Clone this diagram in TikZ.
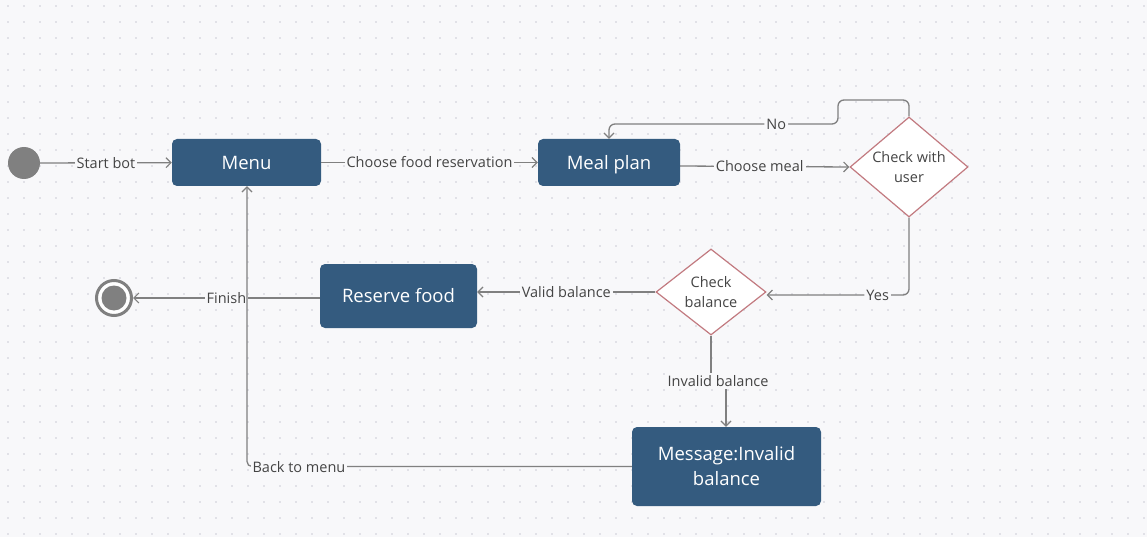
\documentclass[tikz,border=0pt]{standalone}
\usepackage{fontspec}
\setmainfont{Open Sans}
\usetikzlibrary{arrows.meta,shapes.geometric}
\definecolor{bg}{HTML}{F8F8FA}
\definecolor{dotc}{HTML}{CACAD4}
\definecolor{boxc}{HTML}{345B7F}
\definecolor{diac}{HTML}{C27A80}
\definecolor{linec}{HTML}{808080}
\definecolor{txtc}{HTML}{444444}
\tikzset{
  statebox/.style={draw=none, fill=boxc, rounded corners=5pt, text=white, font=\fontsize{18.5}{25}\selectfont, align=center, inner sep=0pt},
  oneline/.style={text height=13.2pt, text depth=0pt},
  decision/.style={diamond, draw=diac, line width=1.2pt, fill=white, inner sep=0pt},
  dtext/.style={text=txtc, font=\fontsize{14.5}{20}\selectfont, align=center},
  conn/.style={draw=linec, line width=1.3pt, -{Straight Barb[length=5pt,width=10pt,line width=1.2pt]}},
  plain/.style={draw=linec, line width=1.3pt},
  lbl/.style={fill=bg, text=txtc, font=\fontsize{14.5}{16}\selectfont, inner sep=2pt},
}
\begin{document}
\begin{tikzpicture}[x=1pt,y=-1pt]
\fill[bg] (0,0) rectangle (1147,537);
\useasboundingbox (0,0) rectangle (1147,537);
\foreach \i in {0,...,71}{\foreach \j in {0,...,33}{\fill[dotc] (8+\i*16,6+\j*16) circle (0.8pt);}}
% nodes
\node[circle, fill=linec, minimum size=32pt, inner sep=0pt] (start) at (24,163) {};
\node[statebox, oneline, minimum width=149pt, minimum height=47pt] (menu) at (246.5,162.5) {Menu};
\node[statebox, oneline, minimum width=142pt, minimum height=47pt] (meal) at (609,162.5) {Meal plan};
\node[decision, minimum width=118pt, minimum height=100pt, aspect=1.18] (chk) at (909,167) {};
\node[dtext] (chkt) at (909,167) {Check with\\user};
\node[decision, minimum width=110pt, minimum height=86pt, aspect=1.28] (bal) at (711,292) {};
\node[dtext] (balt) at (711,292) {Check\\balance};
\node[statebox, oneline, minimum width=157pt, minimum height=64pt] (res) at (398.5,296) {Reserve food};
\node[statebox, minimum width=189pt, minimum height=79pt] (msg) at (726.5,466.5) {Message:Invalid\\balance};
\node[circle, draw=linec, line width=3pt, fill=white, minimum size=35pt, inner sep=0pt] (endo) at (114,298) {};
\node[circle, fill=linec, minimum size=25pt, inner sep=0pt] (endi) at (114,298) {};
% coordinates
\coordinate (nA) at (909,100);
\coordinate (nB) at (838,100);
\coordinate (nC) at (838,124);
\coordinate (nD) at (609,124);
\coordinate (yA) at (909,295);
\coordinate (iA) at (711,381);
\coordinate (iB) at (726,381);
\coordinate (bA) at (247,466.5);
% connectors
\draw[conn] (start) -- node[lbl]{Start bot} (menu);
\draw[conn] (menu) -- node[lbl]{Choose food reservation} (meal);
\draw[conn] (meal.east |- 0,166) -- node[lbl, pos=0.47]{Choose meal} (chk.west);
\draw[conn, rounded corners=6pt] (chk.north) -- (nA) -- (nB) -- (nC) -- node[lbl, pos=0.27]{No} (nD) -- (meal.north);
\draw[conn, rounded corners=6pt] (chk.south) -- (yA) -- node[lbl, pos=0.22]{Yes} (bal.east |- yA);
\draw[conn] (bal.west) -- node[lbl, pos=0.5]{Valid balance} (res.east |- bal.west);
\draw[plain] (bal.south) -- (iA) -- (iB);
\draw[conn] (iB) -- (msg.north -| iB);
\node[lbl] (ilbl) at (718,381) {Invalid balance};
\draw[conn] (res.west |- endo) -- node[lbl, pos=0.5]{Finish} (endo.east);
\draw[conn, rounded corners=5pt] (msg.west |- bA) -- (bA) -- (menu.south -| bA);
\node[lbl] (blbl) at (299,467) {Back to menu};
\end{tikzpicture}
\end{document}
